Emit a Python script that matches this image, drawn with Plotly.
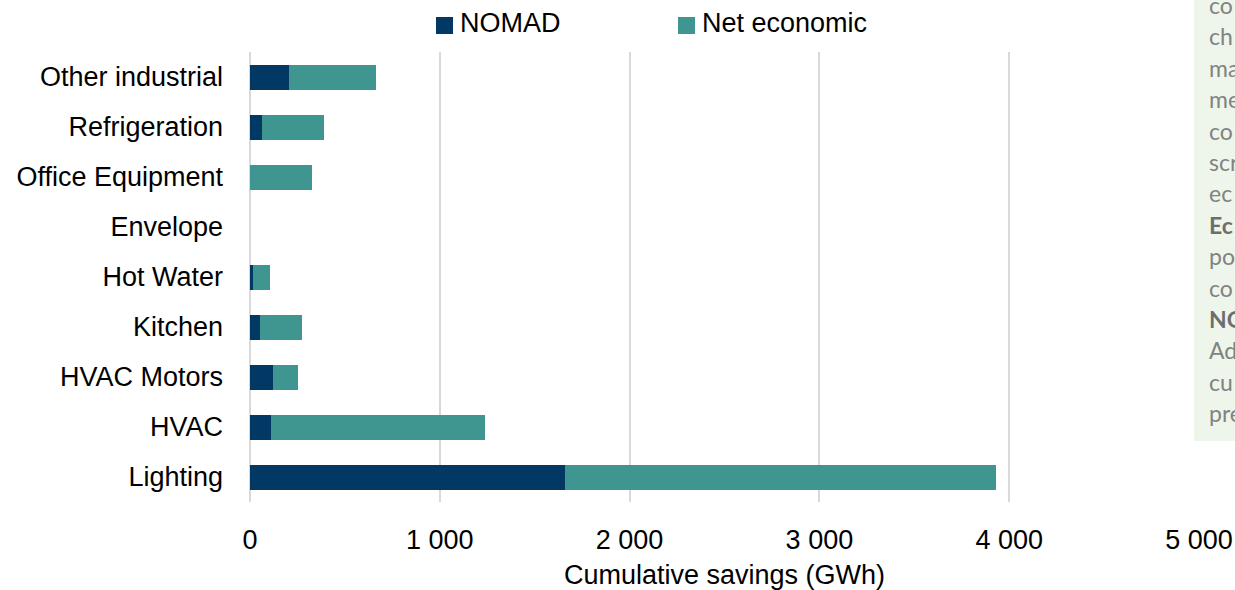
import plotly.graph_objects as go

# Savings by end use, listed bottom to top
categories = ["Lighting", "HVAC", "HVAC Motors", "Kitchen", "Hot Water",
              "Envelope", "Office Equipment", "Refrigeration", "Other industrial"]
nomad = [1659, 113, 122, 54, 18, 0, 0, 61, 203]
net_economic = [2270, 1127, 130, 221, 89, 0, 326, 328, 463]

series_names = ["NOMAD", "Net economic"]
series_colors = ["#023864", "#3F9690"]

x_ticks = [0, 1000, 2000, 3000, 4000, 5000]
x_title = "Cumulative savings (GWh)"

# Side note panel lines (text, bold)
note_lines = [("co", False), ("ch", False), ("ma", False), ("me", False),
              ("co", False), ("scr", False), ("ec", False), ("Ec", True),
              ("po", False), ("co", False), ("NO", True), ("Ad", False),
              ("cu", False), ("pre", False)]

W, H = 1235, 590
L, R, T, B = 250, 36, 52, 88
pw, ph = W - L - R, H - T - B


def px_x(x):
    return (x - L) / pw


def px_y(y):
    return (H - B - y) / ph


font_main = dict(family="Liberation Sans, Arial, sans-serif", size=27, color="#000000")

fig = go.Figure()
for name, vals, col in zip(series_names, [nomad, net_economic], series_colors):
    fig.add_trace(go.Bar(
        y=categories, x=vals, name=name, orientation="h",
        marker=dict(color=col, line=dict(width=0)),
        showlegend=False,
    ))

shapes = []
annotations = []

# Legend built from the series definitions
legend_items = [(series_names[0], series_colors[0], 436, 458),
                (series_names[1], series_colors[1], 678, 700)]
for name, col, sx, tx in legend_items:
    shapes.append(dict(type="rect", xref="paper", yref="paper",
                       x0=px_x(sx), x1=px_x(sx + 17), y0=px_y(34), y1=px_y(17),
                       fillcolor=col, line=dict(width=0), layer="above"))
    annotations.append(dict(text=name, xref="paper", yref="paper",
                            x=px_x(tx), y=px_y(23), xanchor="left", yanchor="middle",
                            showarrow=False, font=font_main))

# Axis title
annotations.append(dict(text=x_title, xref="paper", yref="paper",
                        x=0.5, y=px_y(575), xanchor="center", yanchor="middle",
                        showarrow=False, font=font_main))

# Side note panel
shapes.append(dict(type="rect", xref="paper", yref="paper",
                   x0=px_x(1194), x1=px_x(1260), y0=px_y(441), y1=px_y(-20),
                   fillcolor="#EEF6EB", line=dict(width=0), layer="above"))
for i, (txt, bold) in enumerate(note_lines):
    annotations.append(dict(
        text=f"<b>{txt}</b>" if bold else txt,
        xref="paper", yref="paper", x=px_x(1207), y=px_y(5 + 31.4 * i),
        xanchor="left", yanchor="middle", showarrow=False,
        font=dict(family="Lato, sans-serif", size=23,
                  color="#6E6E6E" if bold else "#828282"),
    ))

fig.update_layout(
    width=W, height=H,
    margin=dict(l=L, r=R, t=T, b=B, autoexpand=False),
    barmode="stack", bargap=0.5,
    plot_bgcolor="white", paper_bgcolor="white",
    separators=". ",
    shapes=shapes, annotations=annotations,
)
fig.update_xaxes(
    range=[0, 5000], tickvals=x_ticks, tickformat=",d",
    showgrid=True, gridcolor="#D9D9D9", gridwidth=2,
    zeroline=True, zerolinecolor="#D9D9D9", zerolinewidth=2,
    showline=False, ticks="", ticklabelstandoff=19,
    tickfont=font_main, automargin=False,
)
fig.update_yaxes(
    showgrid=False, zeroline=False, showline=False, ticks="",
    ticklabelstandoff=26, tickfont=font_main, automargin=False,
)

fig.write_html("out.html")
